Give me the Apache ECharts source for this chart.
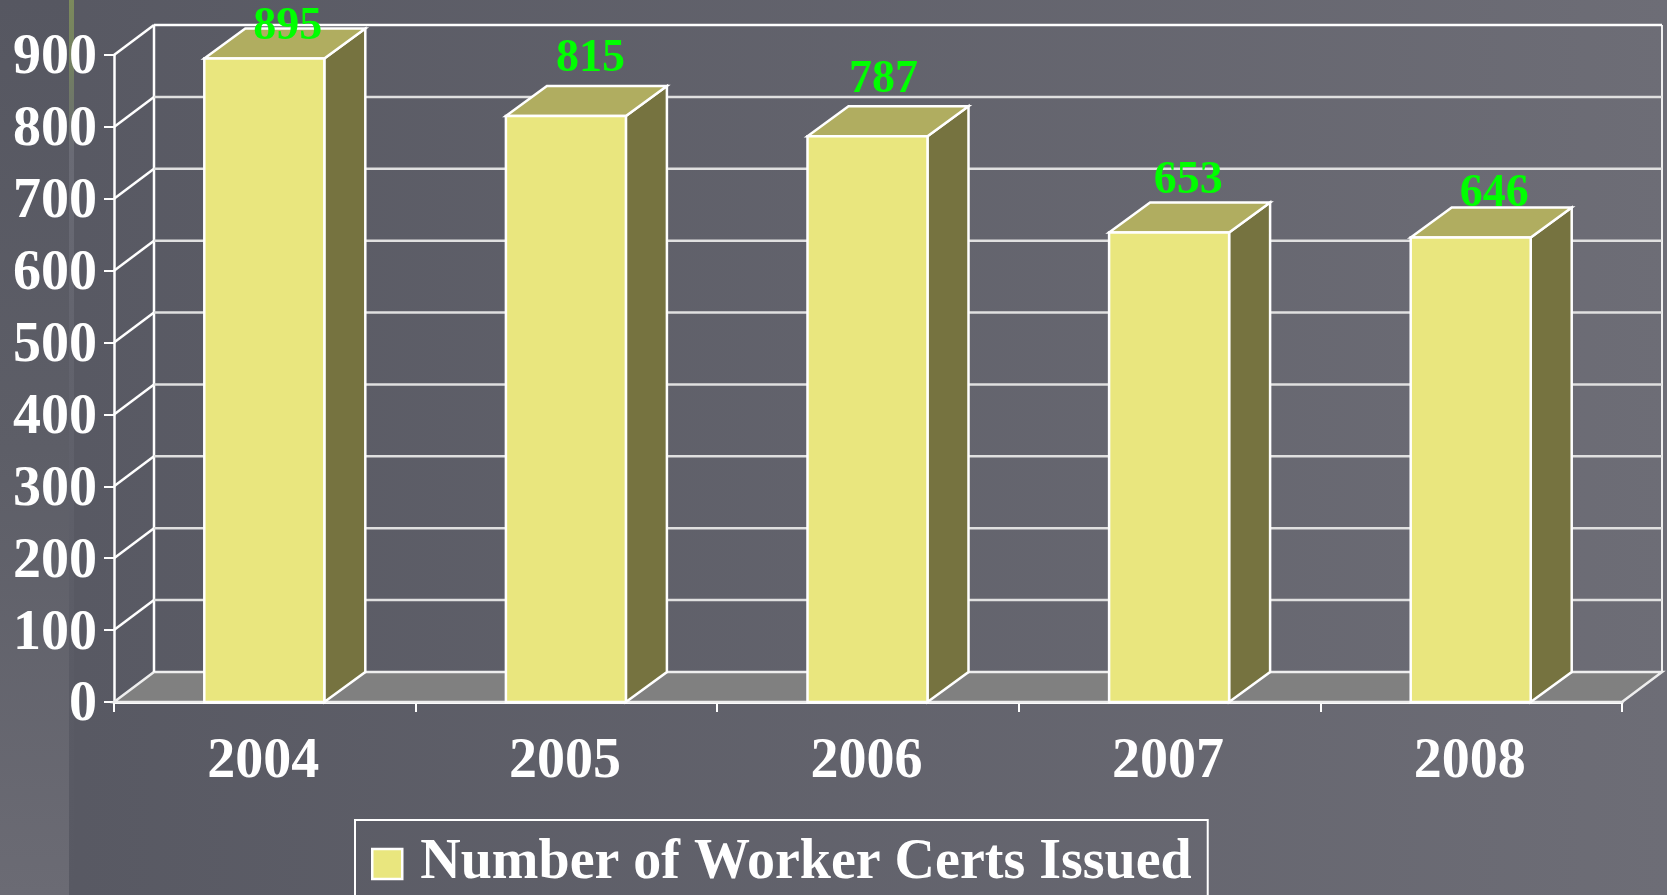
<!DOCTYPE html>
<html><head><meta charset="utf-8">
<style>html,body{margin:0;padding:0;background:#595a64;overflow:hidden}#c{width:1667px;height:895px}</style>
<script src="https://cdn.jsdelivr.net/npm/echarts@6/dist/echarts.min.js"></script>
</head><body><div id="c"></div>
<script>
const categories = ['2004','2005','2006','2007','2008'];
const certsIssued = [895,815,787,653,646];
const yTicks = [0,100,200,300,400,500,600,700,800,900];
const seriesName = 'Number of Worker Certs Issued';

const DX = 40, DY = 30, BAR_DX = 41, BAR_W = 120, BAR_SHIFT = -0.5;
const labelLift = [31,57,56,51,43];
const labelShift = [23.5,24.5,16,19.2,23.5];
const serif = '"Liberation Serif","Times New Roman",serif';
const chart = echarts.init(document.getElementById('c'));

function poly(points, fill, stroke, w){
  return {type:'polygon',shape:{points},style:{fill,stroke:stroke||'#fff',lineWidth:w||2.5,lineJoin:'miter'}};
}
function seg(x1,y1,x2,y2,stroke,w){
  return {type:'line',shape:{x1,y1,x2,y2},style:{stroke:stroke||'#fff',lineWidth:w||2.5}};
}
function renderWall(params, api){
  const cs = params.coordSys, val = api.value(1);
  const y = api.coord([0,val])[1], xl = cs.x, xr = cs.x+cs.width;
  const top = yTicks[yTicks.length-1];
  const kids = [];
  if(val===0){
    kids.push(poly([[xl,y],[xl+DX,y-DY],[xr+DX,y-DY],[xr,y]],'#808080','#eeeeee',2.5));
    const topY = api.coord([0,top])[1];
    kids.push(seg(xl+DX,y-DY,xl+DX,topY-DY,'#fff',2.5));
    kids.push(seg(xr+DX,y-DY,xr+DX,topY-DY,'#eeeeee',2));
  } else {
    kids.push(seg(xl,y,xl+DX,y-DY,'#fff',2.5));
    kids.push(seg(xl+DX,y-DY,xr+DX,y-DY,val===top?'#ffffff':'#e0e0e0',2.5));
  }
  return {type:'group',children:kids};
}
function renderBar(params, api){
  const i = api.value(0), v = api.value(1);
  const p = api.coord([i,v]), base = api.coord([i,0]);
  const cx = p[0]+BAR_SHIFT;
  const l = cx-BAR_W/2, r = cx+BAR_W/2, t = p[1], b = base[1];
  return {type:'group',children:[
    poly([[r,b],[r+BAR_DX,b-DY],[r+BAR_DX,t-DY],[r,t]],'#767340'),
    poly([[l,t],[l+BAR_DX,t-DY],[r+BAR_DX,t-DY],[r,t]],'#b0ad60'),
    poly([[l,t],[r,t],[r,b],[l,b]],'#e9e67e'),
    {type:'text',style:{x:cx+labelShift[i],y:t-labelLift[i],text:String(v),fill:'#00ff00',
      font:'bold 46px '+serif,align:'center',verticalAlign:'middle'}}
  ]};
}
const axisText = {color:'#fff',fontFamily:serif,fontWeight:'bold',fontSize:56};
chart.setOption({
  animation:false,
  backgroundColor:'transparent',
  graphic:[
    {type:'rect',z:-10,silent:true,shape:{x:0,y:0,width:1667,height:895},
     style:{fill:new echarts.graphic.LinearGradient(0,0,1,0,[{offset:0,color:'#575862'},{offset:1,color:'#6d6d76'}])}},
    {type:'rect',z:-9,silent:true,shape:{x:0,y:0,width:69,height:895},
     style:{fill:new echarts.graphic.LinearGradient(0,0,0,1,[{offset:0,color:'#565761'},{offset:.5,color:'#5d5e67'},{offset:1,color:'#6b6b74'}])}},
    {type:'rect',z:-9,silent:true,shape:{x:69,y:0,width:5,height:895},
     style:{fill:new echarts.graphic.LinearGradient(0,0,0,1,[{offset:0,color:'#7c8a5c'},{offset:.08,color:'#727e62'},{offset:.17,color:'#6a6b75'},{offset:.4,color:'#62636d'},{offset:.75,color:'#5a5b65'},{offset:1,color:'#585963'}])}}
  ],
  grid:{left:114,right:45,top:55,bottom:193,containLabel:false},
  legend:{show:true,left:355,top:820,orient:'horizontal',
    data:[{name:seriesName,icon:'rect',itemStyle:{color:'#e9e67e',borderColor:'#fff',borderWidth:2.5}}],
    itemWidth:30,itemHeight:30,itemGap:10,
    padding:[16,16,20,16],
    borderColor:'#fff',borderWidth:2,
    textStyle:{color:'#fff',fontFamily:serif,fontWeight:'bold',fontSize:56,padding:[2,0,0,13]}},
  xAxis:{type:'category',data:categories,boundaryGap:true,
    axisLine:{show:true,lineStyle:{color:'#fff',width:3}},
    axisTick:{show:true,length:10,alignWithLabel:false,lineStyle:{color:'#fff',width:2}},
    axisLabel:{margin:33,formatter:'{a|{value}}',rich:{a:Object.assign({},axisText,{padding:[0,3,0,0]})}},
    splitLine:{show:false}},
  yAxis:{type:'value',min:0,max:900,interval:100,
    axisLine:{show:true,lineStyle:{color:'#fff',width:2.5}},
    axisTick:{show:true,length:10,lineStyle:{color:'#fff',width:2}},
    axisLabel:{margin:17,formatter:'{a|{value}}',rich:{a:Object.assign({},axisText,{padding:[8,0,0,0]})}},
    splitLine:{show:false}},
  series:[
    {type:'custom',name:'wall',z:1,silent:true,renderItem:renderWall,
     data:yTicks.map(t=>[0,t]),encode:{x:0,y:1}},
    {type:'custom',name:seriesName,z:2,silent:true,renderItem:renderBar,
     itemStyle:{color:'#e9e67e'},
     data:certsIssued.map((v,i)=>[i,v]),encode:{x:0,y:1}}
  ]
});
</script></body></html>
